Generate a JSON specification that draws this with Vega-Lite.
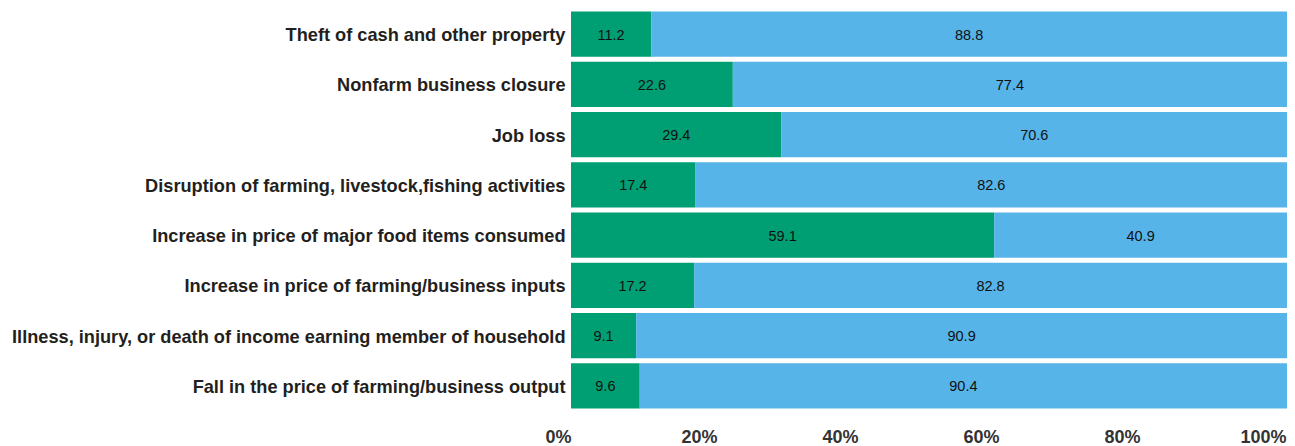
{
  "$schema": "https://vega.github.io/schema/vega-lite/v6.json",
  "width": 716,
  "height": 402,
  "autosize": {"type": "none"},
  "padding": {"left": 571, "top": 9, "right": 8, "bottom": 35},
  "background": "white",
  "config": {"view": {"stroke": null}, "font": "Liberation Sans"},
  "data": {
    "values": [
      {"cause": "Theft of cash and other property", "ord": 1, "grp": "Yes", "gord": 1, "value": 11.2},
      {"cause": "Theft of cash and other property", "ord": 1, "grp": "No", "gord": 2, "value": 88.8},
      {"cause": "Nonfarm business closure", "ord": 2, "grp": "Yes", "gord": 1, "value": 22.6},
      {"cause": "Nonfarm business closure", "ord": 2, "grp": "No", "gord": 2, "value": 77.4},
      {"cause": "Job loss", "ord": 3, "grp": "Yes", "gord": 1, "value": 29.4},
      {"cause": "Job loss", "ord": 3, "grp": "No", "gord": 2, "value": 70.6},
      {"cause": "Disruption of farming, livestock,fishing activities", "ord": 4, "grp": "Yes", "gord": 1, "value": 17.4},
      {"cause": "Disruption of farming, livestock,fishing activities", "ord": 4, "grp": "No", "gord": 2, "value": 82.6},
      {"cause": "Increase in price of major food items consumed", "ord": 5, "grp": "Yes", "gord": 1, "value": 59.1},
      {"cause": "Increase in price of major food items consumed", "ord": 5, "grp": "No", "gord": 2, "value": 40.9},
      {"cause": "Increase in price of farming/business inputs", "ord": 6, "grp": "Yes", "gord": 1, "value": 17.2},
      {"cause": "Increase in price of farming/business inputs", "ord": 6, "grp": "No", "gord": 2, "value": 82.8},
      {"cause": "Illness, injury, or death of income earning member of household", "ord": 7, "grp": "Yes", "gord": 1, "value": 9.1},
      {"cause": "Illness, injury, or death of income earning member of household", "ord": 7, "grp": "No", "gord": 2, "value": 90.9},
      {"cause": "Fall in the price of farming/business output", "ord": 8, "grp": "Yes", "gord": 1, "value": 9.6},
      {"cause": "Fall in the price of farming/business output", "ord": 8, "grp": "No", "gord": 2, "value": 90.4}
    ]
  },
  "transform": [
    {"stack": "value", "groupby": ["cause"], "sort": [{"field": "gord", "order": "ascending"}], "as": ["x0", "x1"]},
    {"calculate": "(datum.x0 + datum.x1) / 2", "as": "xmid"}
  ],
  "encoding": {
    "y": {
      "field": "cause",
      "type": "nominal",
      "sort": {"field": "ord", "op": "min", "order": "ascending"},
      "scale": {"paddingInner": 0.1, "paddingOuter": 0.05},
      "axis": {
        "title": null,
        "ticks": false,
        "domain": false,
        "labelPadding": 6,
        "labelOffset": 2,
        "labelFontSize": 18.2,
        "labelFontWeight": "bold",
        "labelColor": "#231f20",
        "labelLimit": 700
      }
    }
  },
  "layer": [
    {
      "mark": {"type": "bar"},
      "encoding": {
        "x": {
          "field": "x0",
          "type": "quantitative",
          "scale": {"domain": [0, 100], "nice": false},
          "axis": {
            "title": null,
            "values": [0, 20, 40, 60, 80, 100],
            "labelExpr": "datum.value + '%'",
            "grid": false,
            "ticks": false,
            "domain": false,
            "labelFontSize": 18,
            "labelFontWeight": "bold",
            "labelColor": "#333333",
            "labelPadding": 17,
            "labelFlush": false,
            "labelOverlap": false,
            "labelOffset": {"expr": "-13 - datum.value * 0.11"}
          }
        },
        "x2": {"field": "x1"},
        "color": {
          "field": "grp",
          "type": "nominal",
          "scale": {"domain": ["Yes", "No"], "range": ["#009e73", "#56b4e9"]},
          "legend": null
        }
      }
    },
    {
      "mark": {"type": "text", "fontSize": 14.5, "color": "#111111", "baseline": "middle", "align": "center", "dy": 1.5},
      "encoding": {
        "x": {"field": "xmid", "type": "quantitative"},
        "text": {"field": "value", "type": "quantitative", "format": ".1f"}
      }
    }
  ]
}
